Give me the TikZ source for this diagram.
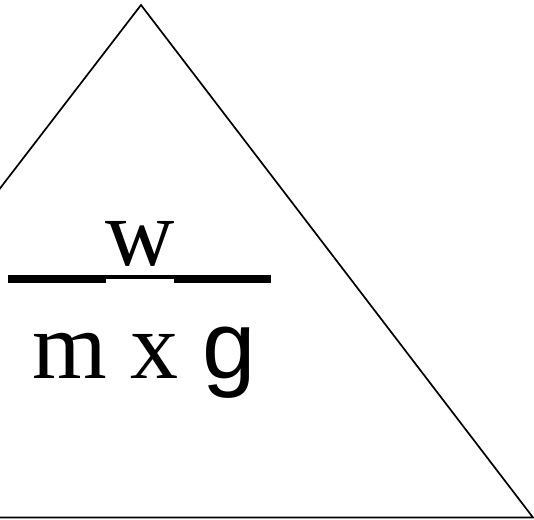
\documentclass[tikz,border=0pt]{standalone}
\usepackage{fontspec}
\setmainfont{Liberation Serif}
\newfontfamily\arialf{Liberation Sans}
\begin{document}
\begin{tikzpicture}[x=1pt,y=-1pt,
  edge/.style={draw=black,line width=1.7pt,line join=miter},
  bigtext/.style={inner sep=0pt,anchor=base west,font=\fontsize{96}{96}\selectfont},
  bar/.style={fill=black}]
\useasboundingbox (0,0) rectangle (534,519);
\clip (0,0) rectangle (534,519);
\coordinate (apex) at (141,5);
\coordinate (bl) at (-253,517.5);
\coordinate (br) at (533,517.5);
\draw[edge] (apex) -- (br) -- (bl) -- cycle;
\node[bigtext] (w) at (105,265) {w};
\fill[bar] (8,275) rectangle (106,283);
\fill[bar] (106,275) rectangle (174,279);
\fill[bar] (174,275) rectangle (271,283);
\node[bigtext] (mxg) at (32,378) {m x {\arialf g}};
\end{tikzpicture}
\end{document}
